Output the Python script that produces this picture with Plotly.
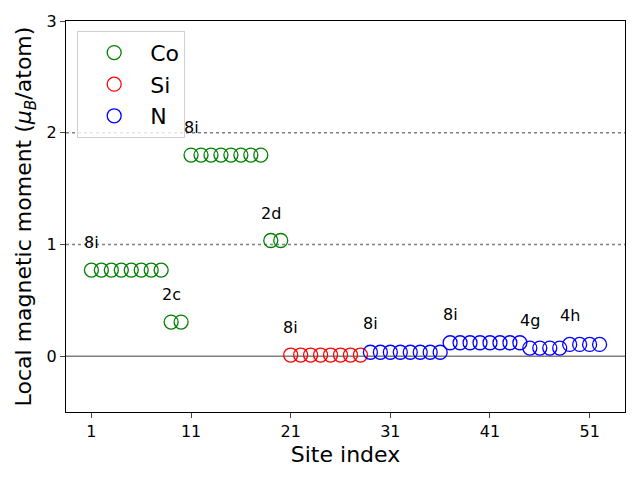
import plotly.graph_objects as go

co_x = list(range(1, 21))
co_y = [0.77]*8 + [0.305]*2 + [1.80]*8 + [1.035]*2
si_x = list(range(21, 29))
si_y = [0.01]*8
n_x = list(range(29, 53))
n_y = [0.035]*8 + [0.12]*8 + [0.072]*4 + [0.105]*4

label_text = ["8i", "2c", "8i", "2d", "8i", "8i", "8i", "4g", "4h"]
label_x = [1, 9, 11, 19, 21, 29, 37, 45, 49]
label_y = [1.02, 0.55, 2.05, 1.28, 0.26, 0.29, 0.37, 0.32, 0.36]

xticks = [1, 11, 21, 31, 41, 51]
yticks = [0, 1, 2, 3]

fig = go.Figure()
for name, xs, ys, col in [("Co", co_x, co_y, "green"), ("Si", si_x, si_y, "red"), ("N", n_x, n_y, "blue")]:
    fig.add_trace(go.Scatter(x=xs, y=ys, mode="markers", name=name,
                             marker=dict(symbol="circle-open", size=14, color=col, line=dict(width=1.3, color=col))))

fig.add_hline(y=0, line=dict(color="gray", width=1.5), layer="below")
fig.add_hline(y=1, line=dict(color="gray", width=1.5, dash="dot"), layer="below")
fig.add_hline(y=2, line=dict(color="gray", width=1.5, dash="dot"), layer="below")

for t, x, y in zip(label_text, label_x, label_y):
    fig.add_annotation(x=x, y=y, text=t, showarrow=False, font=dict(size=16, color="black"))

fig.update_layout(
    width=632, height=472,
    margin=dict(l=58, r=15, t=13, b=68, autoexpand=False),
    paper_bgcolor="white", plot_bgcolor="white",
    font=dict(family="DejaVu Sans", color="black"),
    showlegend=True,
    legend=dict(x=0.02, y=0.975, xanchor="left", yanchor="top", bgcolor="rgba(255,255,255,0.8)",
                bordercolor="#d0d0d0", borderwidth=1, font=dict(size=22), itemwidth=62,
                tracegroupgap=2),
)
fig.update_xaxes(range=[-1.55, 54.55], tickvals=xticks, ticks="outside", ticklen=5, showgrid=False,
                 zeroline=False, showline=True, linecolor="black", mirror=True, tickfont=dict(size=16),
                 automargin=False,
                 title=dict(text="Site index", font=dict(size=22), standoff=6))
fig.update_yaxes(range=[-0.5, 3], tickvals=yticks, ticks="outside", ticklen=5, showgrid=False,
                 zeroline=False, showline=True, linecolor="black", mirror=True, tickfont=dict(size=16),
                 automargin=False,
                 title=dict(text="Local magnetic moment (<i>μ</i><sub><i>B</i></sub>/atom)", font=dict(size=22), standoff=8))

fig.write_html("out.html")
